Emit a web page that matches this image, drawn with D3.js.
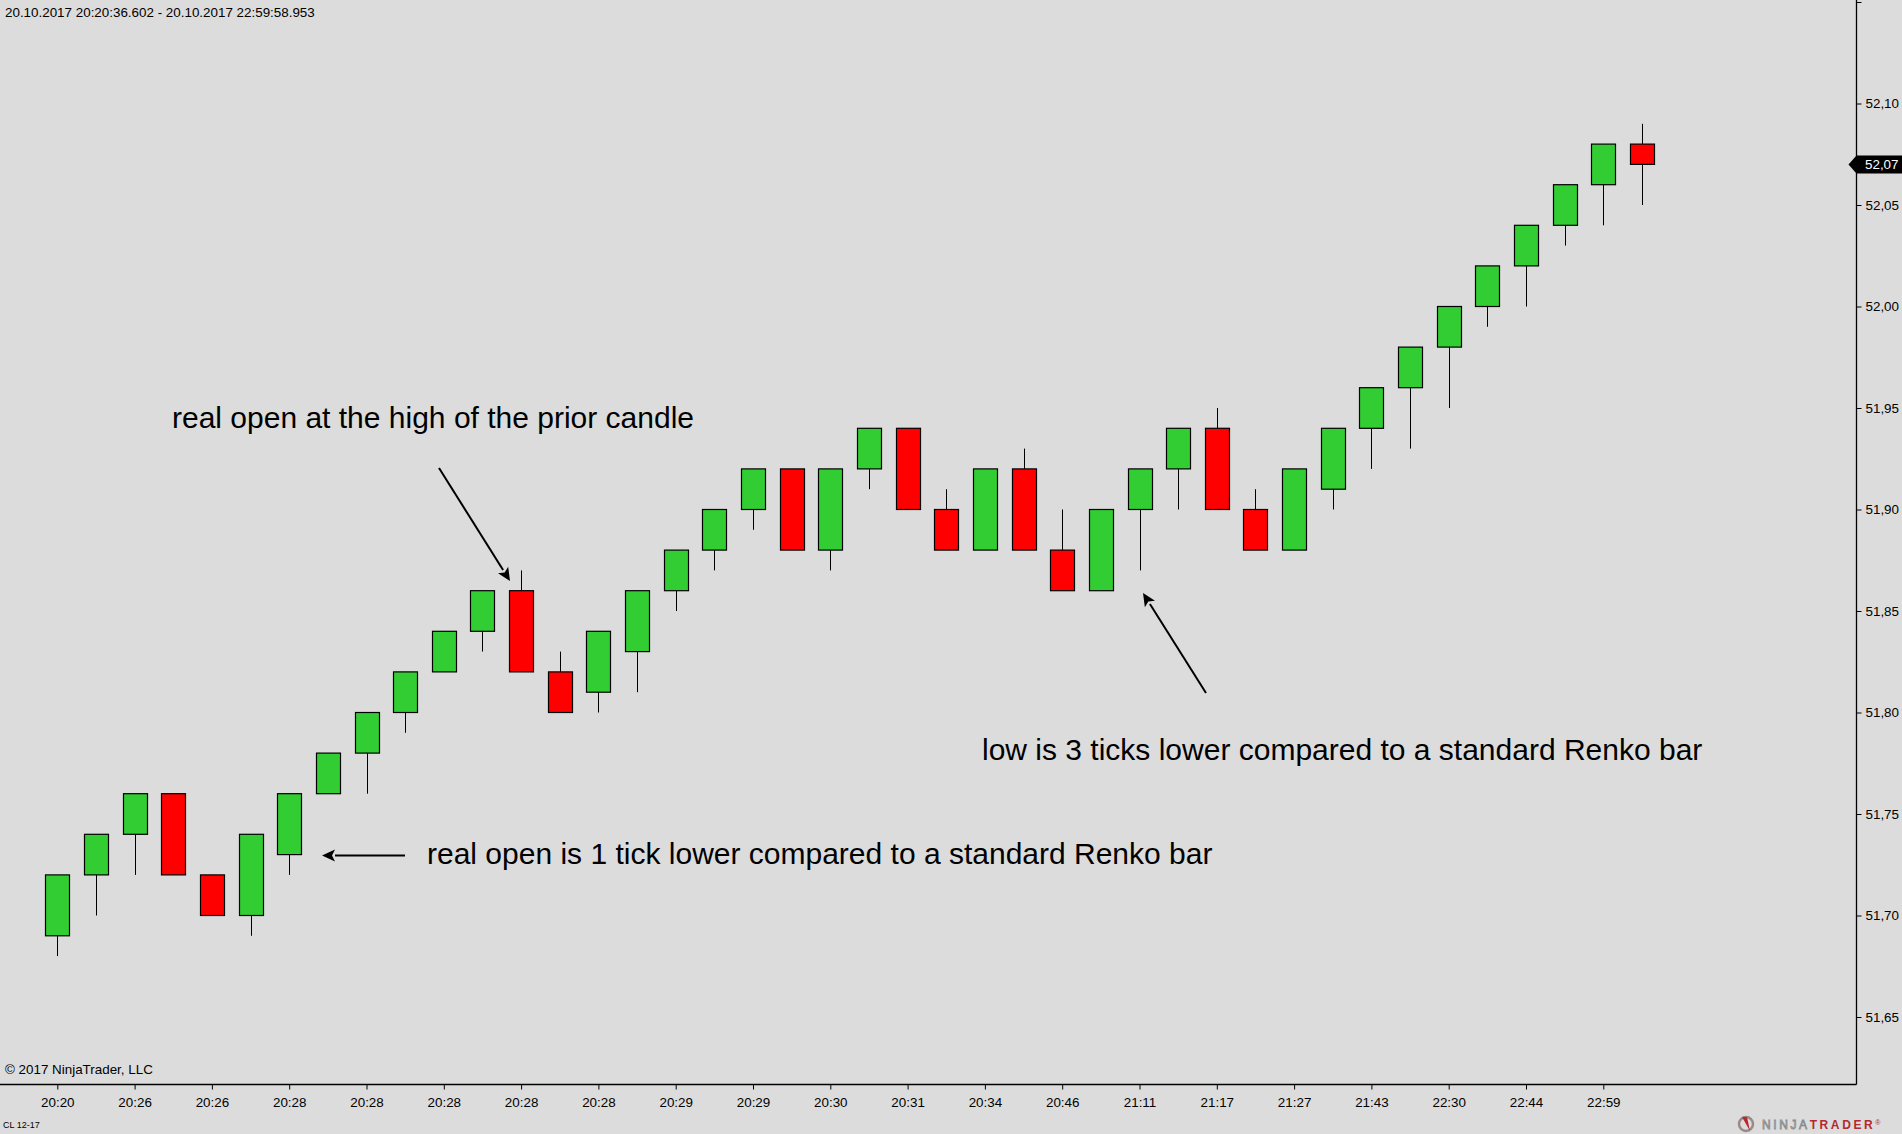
<html>
<head>
<meta charset="utf-8">
<title>Renko CL 12-17</title>
<style>
  body { margin: 0; background: #dcdcdc; overflow: hidden; }
  svg { display: block; font-family: "Liberation Sans", Arial, sans-serif; }
</style>
</head>
<body>
<svg id="chart" width="1902" height="1134"></svg>
<script src="https://d3js.org/d3.v7.min.js"></script>
<script>
// bar data (renko bars)
var opens  = [51.69, 51.72, 51.74, 51.76, 51.72, 51.70, 51.73, 51.76, 51.78, 51.80,
              51.82, 51.84, 51.86, 51.82, 51.81, 51.83, 51.86, 51.88, 51.90, 51.92,
              51.88, 51.92, 51.94, 51.90, 51.88, 51.92, 51.88, 51.86, 51.90, 51.92,
              51.94, 51.90, 51.88, 51.91, 51.94, 51.96, 51.98, 52.00, 52.02, 52.04,
              52.06, 52.08];
var closes = [51.72, 51.74, 51.76, 51.72, 51.70, 51.74, 51.76, 51.78, 51.80, 51.82,
              51.84, 51.86, 51.82, 51.80, 51.84, 51.86, 51.88, 51.90, 51.92, 51.88,
              51.92, 51.94, 51.90, 51.88, 51.92, 51.88, 51.86, 51.90, 51.92, 51.94,
              51.90, 51.88, 51.92, 51.94, 51.96, 51.98, 52.00, 52.02, 52.04, 52.06,
              52.08, 52.07];
var highs  = [51.72, 51.74, 51.76, 51.76, 51.72, 51.74, 51.76, 51.78, 51.80, 51.82,
              51.84, 51.86, 51.87, 51.83, 51.84, 51.86, 51.88, 51.90, 51.92, 51.92,
              51.92, 51.94, 51.94, 51.91, 51.92, 51.93, 51.90, 51.90, 51.92, 51.94,
              51.95, 51.91, 51.92, 51.94, 51.96, 51.98, 52.00, 52.02, 52.04, 52.06,
              52.08, 52.09];
var lows   = [51.68, 51.70, 51.72, 51.72, 51.70, 51.69, 51.72, 51.76, 51.76, 51.79,
              51.82, 51.83, 51.82, 51.80, 51.80, 51.81, 51.85, 51.87, 51.89, 51.88,
              51.87, 51.91, 51.90, 51.88, 51.88, 51.88, 51.86, 51.86, 51.87, 51.90,
              51.90, 51.88, 51.88, 51.90, 51.92, 51.93, 51.95, 51.99, 52.00, 52.03,
              52.04, 52.05];

// time labels, one every second bar
var timeLabels = ["20:20", "20:26", "20:26", "20:28", "20:28", "20:28", "20:28",
                  "20:28", "20:29", "20:29", "20:30", "20:31", "20:34", "20:46",
                  "21:11", "21:17", "21:27", "21:43", "22:30", "22:44", "22:59"];
var priceTicks = [51.65, 51.70, 51.75, 51.80, 51.85, 51.90, 51.95, 52.00, 52.05, 52.10, 52.15];
var lastPrice = 52.07;

var svg = d3.select("#chart");
var W = 1902, H = 1134;
var axisX = 1856.5, axisY = 1084;
var small = "13.4px";

svg.append("rect").attr("width", W).attr("height", H).attr("fill", "#dcdcdc");

var x = d3.scaleLinear().domain([0, 40]).range([57.3, 1603.3]);
var y = d3.scaleLinear().domain([51.65, 52.10]).range([1017, 103.5]);
var bodyW = 24;
var fmt = function(v) { return d3.format(".2f")(v).replace(".", ","); };

var bars = d3.range(opens.length).map(function(i) {
    return { i: i, o: opens[i], c: closes[i], h: highs[i], l: lows[i] };
});

// wicks
svg.append("g").selectAll("line")
    .data(bars)
    .enter()
    .append("line")
    .attr("x1", function(d) { return Math.round(x(d.i)) + 0.5; })
    .attr("x2", function(d) { return Math.round(x(d.i)) + 0.5; })
    .attr("y1", function(d) { return y(d.h); })
    .attr("y2", function(d) { return y(d.l); })
    .attr("stroke", "#000")
    .attr("stroke-width", 1);

// bodies
svg.append("g").selectAll("rect")
    .data(bars)
    .enter()
    .append("rect")
    .attr("x", function(d) { return Math.round(x(d.i) - bodyW / 2) + 0.5; })
    .attr("y", function(d) { return y(Math.max(d.o, d.c)); })
    .attr("width", bodyW)
    .attr("height", function(d) { return y(Math.min(d.o, d.c)) - y(Math.max(d.o, d.c)); })
    .attr("fill", function(d) { return d.c >= d.o ? "#32cd32" : "#ff0000"; })
    .attr("stroke", "#000")
    .attr("stroke-width", 1.2);

// axes lines
svg.append("line").attr("x1", axisX).attr("x2", axisX).attr("y1", 0).attr("y2", axisY + 0.5)
    .attr("stroke", "#000").attr("stroke-width", 1.3);
svg.append("line").attr("x1", 0).attr("x2", axisX).attr("y1", axisY + 0.5).attr("y2", axisY + 0.5)
    .attr("stroke", "#000").attr("stroke-width", 1.3);

// price axis
var yAxis = d3.axisRight(y).tickValues(priceTicks).tickSize(5).tickPadding(4)
    .tickFormat(function(v) { return v > 52.12 ? "" : fmt(v); });
var gy = svg.append("g").attr("transform", "translate(" + axisX + ",0)").call(yAxis);
gy.select(".domain").remove();
gy.selectAll("text").attr("font-size", small).attr("fill", "#000")
    .attr("font-family", "\"Liberation Sans\", Arial, sans-serif");

// time axis
var xAxis = d3.axisBottom(x).tickValues(d3.range(0, 41, 2)).tickSize(5).tickPadding(8)
    .tickFormat(function(v) { return timeLabels[v / 2]; });
var gx = svg.append("g").attr("transform", "translate(0," + (axisY + 0.5) + ")").call(xAxis);
gx.select(".domain").remove();
gx.selectAll("text").attr("font-size", small).attr("fill", "#000")
    .attr("font-family", "\"Liberation Sans\", Arial, sans-serif");

// last price marker
var ly = y(lastPrice);
svg.append("path")
    .attr("d", "M" + (axisX - 8) + "," + ly + " L" + axisX + "," + (ly - 9) + " L" + W + "," + (ly - 9) +
               " L" + W + "," + (ly + 9) + " L" + axisX + "," + (ly + 9) + " Z")
    .attr("fill", "#000");
svg.append("text").attr("x", 1865).attr("y", ly + 4.5).attr("font-size", small)
    .attr("fill", "#fff").text(fmt(lastPrice));

// header / footer texts
svg.append("text").attr("x", 5).attr("y", 17).attr("font-size", small).attr("fill", "#000")
    .text("20.10.2017 20:20:36.602 - 20.10.2017 22:59:58.953");
svg.append("text").attr("x", 5).attr("y", 1074).attr("font-size", small).attr("fill", "#000")
    .text("\u00a9 2017 NinjaTrader, LLC");
svg.append("text").attr("x", 3).attr("y", 1128).attr("font-size", "9px").attr("fill", "#000")
    .text("CL 12-17");

// logo
var logo = svg.append("g");
logo.append("circle").attr("cx", 1746).attr("cy", 1124).attr("r", 7)
    .attr("fill", "none").attr("stroke", "#9a8a86").attr("stroke-width", 2.5);
logo.append("path").attr("d", "M1742,1117 L1750,1131 L1747,1117 Z").attr("fill", "#b8282c");
var lt = logo.append("text").attr("x", 1762).attr("y", 1129).attr("font-size", "12px")
    .attr("letter-spacing", "2.6px");
lt.append("tspan").attr("fill", "none").attr("stroke", "#8a8a8a").attr("stroke-width", 0.8).text("NINJA");
lt.append("tspan").attr("fill", "#b22a2e").attr("font-weight", "bold").text("TRADER");
lt.append("tspan").attr("fill", "#b22a2e").attr("font-size", "7px").attr("dy", -4).text("\u00ae");

// annotations
function arrow(x1, y1, x2, y2) {
    var a = Math.atan2(y2 - y1, x2 - x1), len = 13, half = 6;
    var bx = x2 - len * Math.cos(a), by = y2 - len * Math.sin(a);
    svg.append("line").attr("x1", x1).attr("y1", y1).attr("x2", bx).attr("y2", by)
        .attr("stroke", "#000").attr("stroke-width", 2);
    var p1 = [bx + half * Math.sin(a), by - half * Math.cos(a)];
    var p2 = [bx - half * Math.sin(a), by + half * Math.cos(a)];
    var notch = [x2 - (len - 3) * Math.cos(a), y2 - (len - 3) * Math.sin(a)];
    svg.append("path")
        .attr("d", "M" + x2 + "," + y2 + " L" + p1 + " L" + notch + " L" + p2 + " Z")
        .attr("fill", "#000");
}
arrow(439, 468, 510, 581);
arrow(1206, 693, 1143, 593);
arrow(405, 855.5, 322, 855.5);

svg.append("text").attr("x", 172).attr("y", 428).attr("font-size", "30px").attr("fill", "#000")
    .text("real open at the high of the prior candle");
svg.append("text").attr("x", 982).attr("y", 760).attr("font-size", "30px").attr("fill", "#000")
    .text("low is 3 ticks lower compared to a standard Renko bar");
svg.append("text").attr("x", 427).attr("y", 864).attr("font-size", "30px").attr("fill", "#000")
    .text("real open is 1 tick lower compared to a standard Renko bar");
</script>
</body>
</html>
